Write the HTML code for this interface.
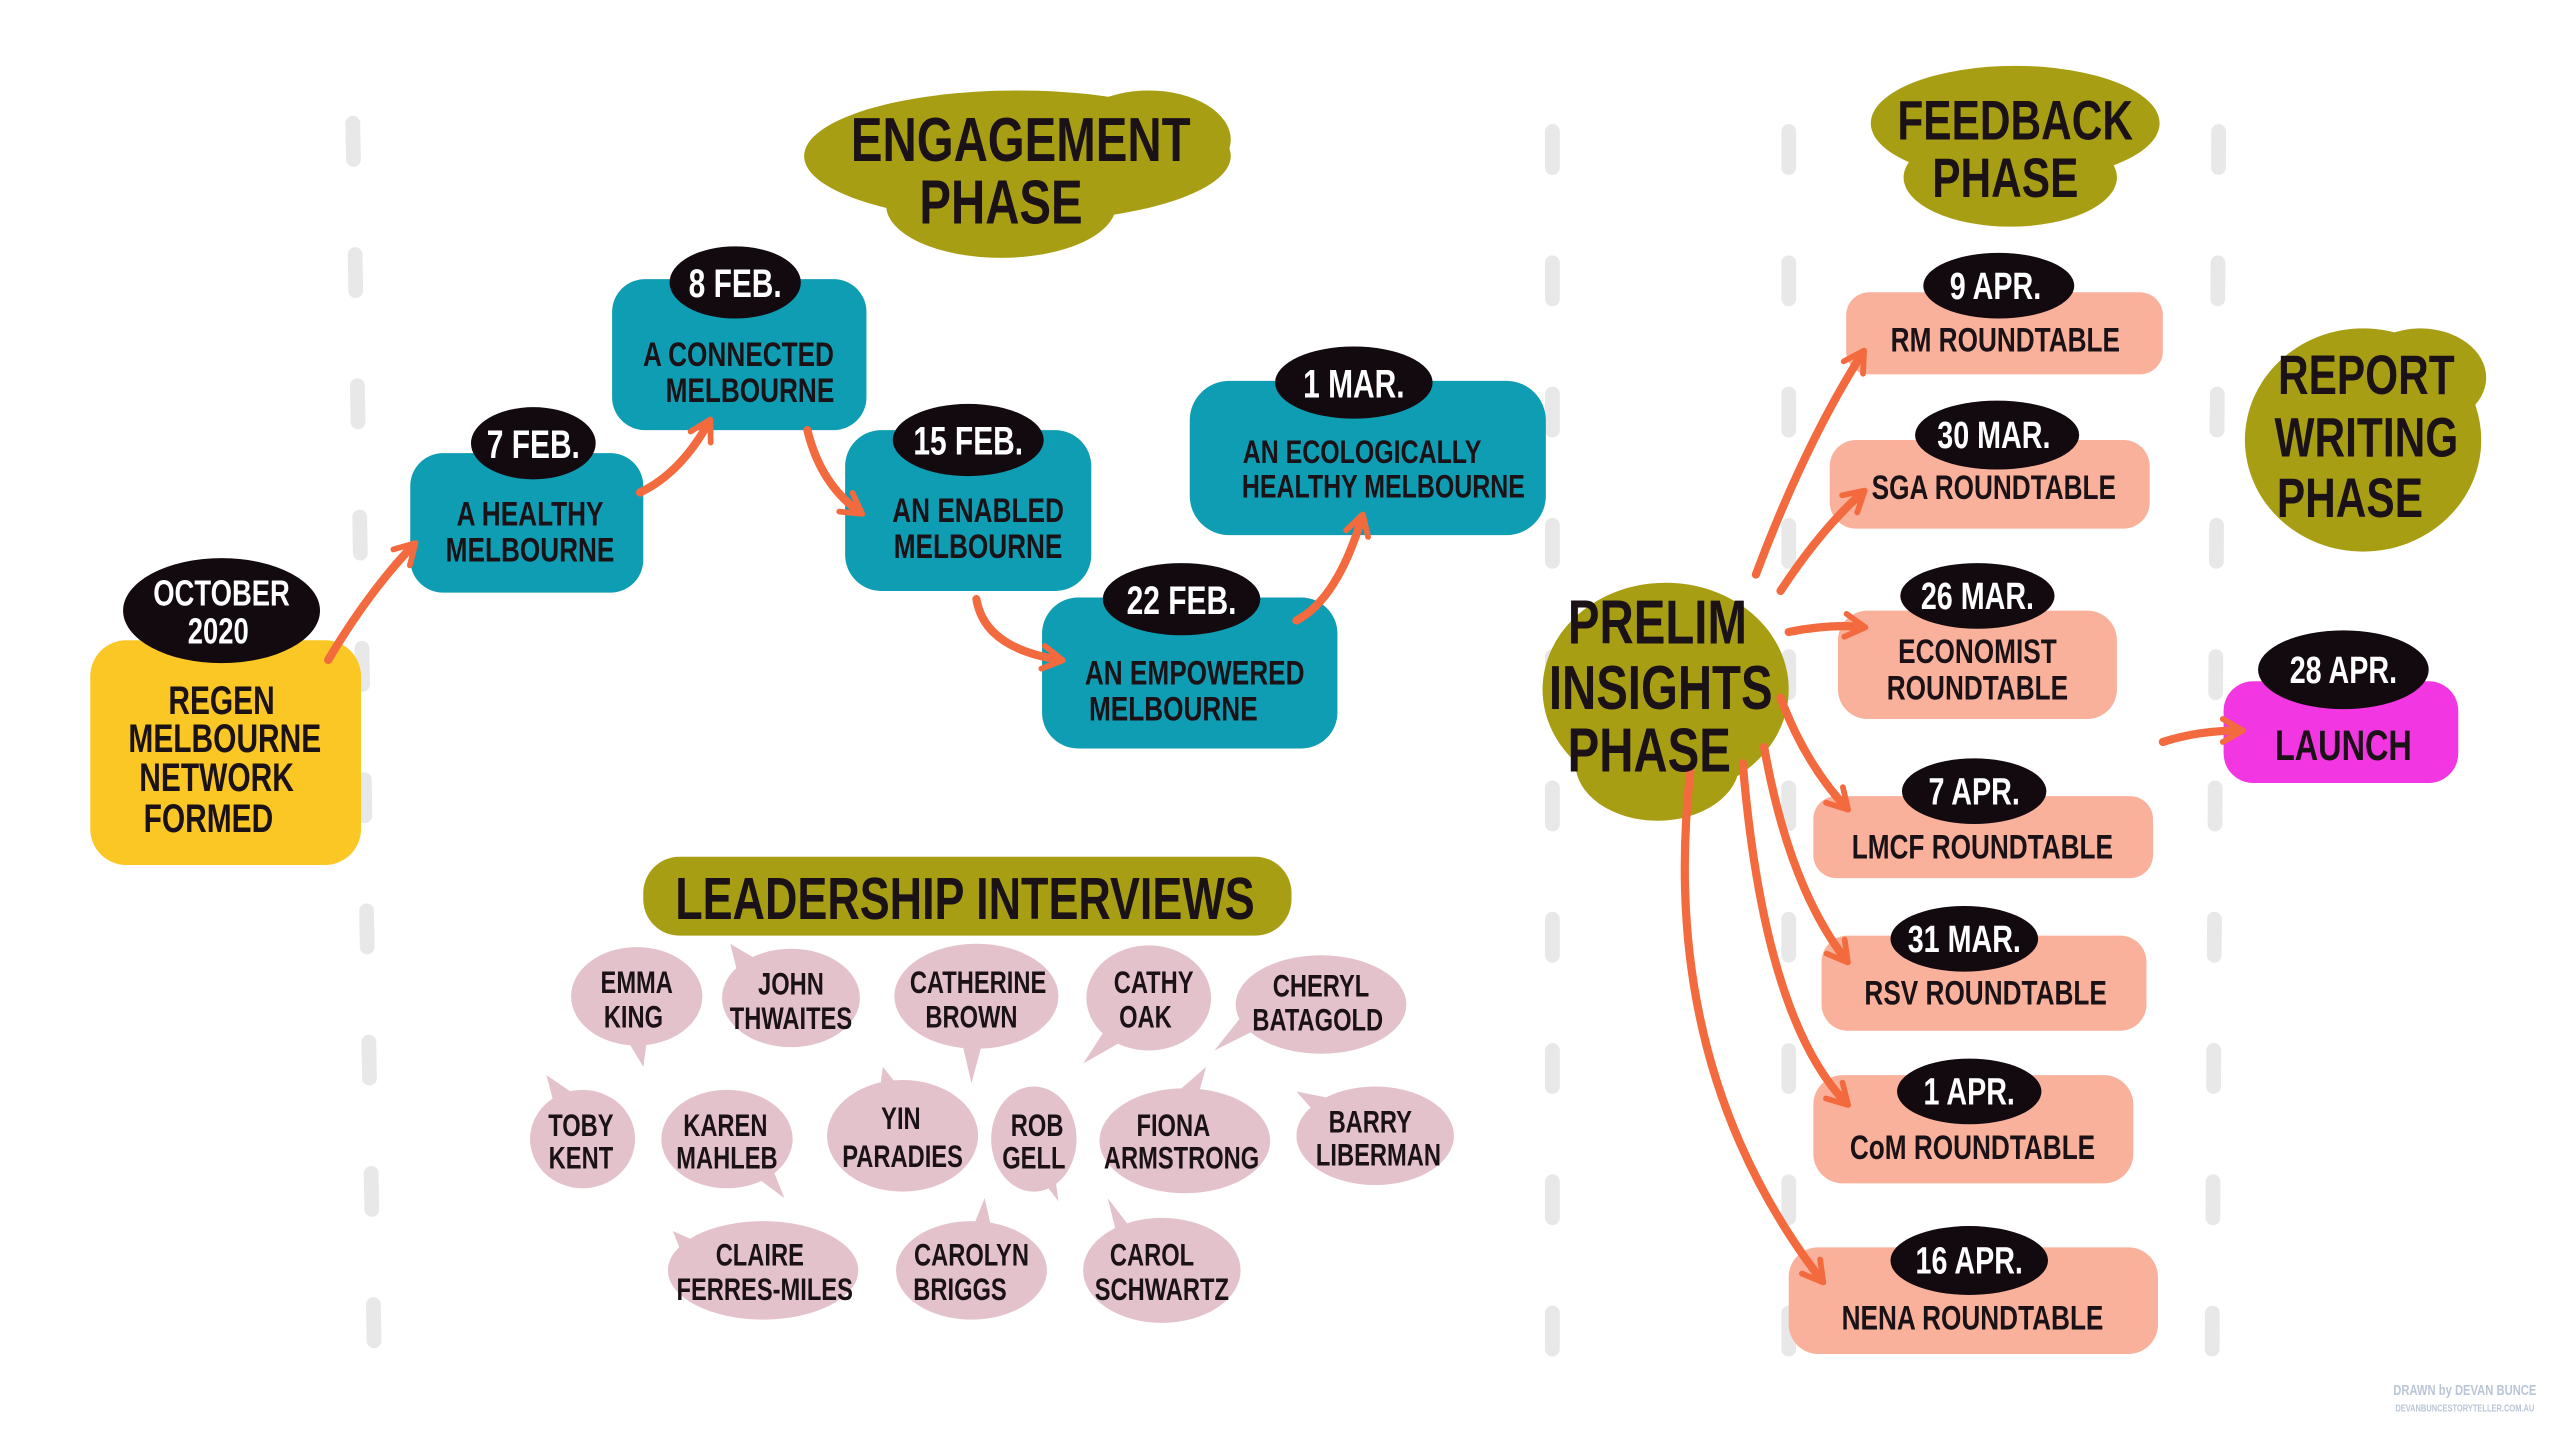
<!DOCTYPE html>
<html><head><meta charset="utf-8"><style>
html,body{margin:0;padding:0;background:#fff;}
svg{display:block;}
text{font-family:"Liberation Sans",sans-serif;font-weight:bold;text-anchor:middle;}
.d{fill:#1a1216;}
.w{fill:#fff;}
</style></head><body>
<svg id="s" width="2560" height="1433" viewBox="0 0 1560 873" xmlns="http://www.w3.org/2000/svg">
<defs>
<marker id="ah" viewBox="0 0 10 10" refX="7" refY="5" markerWidth="3.5" markerHeight="3.5" orient="auto">
<path d="M1,1 L8,5 L1,9" fill="none" stroke="#f26a3d" stroke-width="2" stroke-linecap="round" stroke-linejoin="round"/>
</marker>
</defs>
<g stroke="#e8e8e8" stroke-width="9" stroke-linecap="round" stroke-dasharray="22 58">
<line x1="215" y1="75" x2="228" y2="820"/>
<line x1="946" y1="80" x2="946" y2="830"/>
<line x1="1090" y1="80" x2="1090" y2="830"/>
<line x1="1352" y1="80" x2="1348" y2="830"/>
</g>

<g fill="#a89e14">
<ellipse cx="620" cy="95" rx="130" ry="40"/><ellipse cx="610" cy="125" rx="70" ry="32"/><ellipse cx="700" cy="85" rx="50" ry="30"/>
<ellipse cx="1228" cy="75" rx="88" ry="35"/><ellipse cx="1225" cy="108" rx="65" ry="30"/>
<ellipse cx="1440" cy="268" rx="72" ry="68"/><ellipse cx="1475" cy="230" rx="40" ry="30"/>
<ellipse cx="1015" cy="420" rx="75" ry="65"/><ellipse cx="1010" cy="465" rx="50" ry="35"/>
<rect x="392" y="522" width="395" height="48" rx="22"/>
</g>

<rect x="55" y="390" width="165" height="137" rx="22" fill="#fbc724"/>
<g fill="#0e9db3">
<rect x="250" y="276" width="142" height="85" rx="20"/>
<rect x="373" y="170" width="155" height="92" rx="20"/>
<rect x="515" y="262" width="150" height="98" rx="22"/>
<rect x="635" y="364" width="180" height="92" rx="22"/>
<rect x="725" y="232" width="217" height="94" rx="24"/>
</g>
<g fill="#f9b19b">
<rect x="1125" y="178" width="193" height="50" rx="14"/>
<rect x="1115" y="268" width="195" height="54" rx="16"/>
<rect x="1120" y="372" width="170" height="66" rx="18"/>
<rect x="1105" y="485" width="207" height="50" rx="14"/>
<rect x="1110" y="570" width="198" height="58" rx="16"/>
<rect x="1105" y="655" width="195" height="66" rx="18"/>
<rect x="1090" y="760" width="225" height="65" rx="18"/>
</g>
<rect x="1355" y="415" width="143" height="62" rx="18" fill="#f236e2"/>

<g fill="none" stroke="#f26a3d" stroke-width="5" stroke-linecap="round" marker-end="url(#ah)">
<path d="M200,402 Q225,360 252,332"/>
<path d="M390,300 Q415,288 432,257"/>
<path d="M492,262 Q500,295 524,312"/>
<path d="M595,365 Q600,395 646,402"/>
<path d="M790,378 Q815,365 830,315"/>
<path d="M1070,350 Q1100,270 1135,215"/>
<path d="M1085,360 Q1110,322 1135,300"/>
<path d="M1090,385 Q1115,380 1135,382"/>
<path d="M1085,425 Q1100,465 1125,492"/>
<path d="M1075,455 Q1090,540 1125,585"/>
<path d="M1062,465 Q1075,620 1125,672"/>
<path d="M1030,470 Q1010,650 1110,780"/>
<path d="M1318,452 Q1340,445 1365,445"/>
</g>

<text class="d" x="622" y="98" font-size="38">ENGAGEMENT</text>
<text class="d" x="610" y="136" font-size="38">PHASE</text>
<text class="d" x="1228" y="85" font-size="34">FEEDBACK</text>
<text class="d" x="1222" y="120" font-size="34">PHASE</text>
<text class="d" x="1442" y="240" font-size="34">REPORT</text>
<text class="d" x="1442" y="278" font-size="34">WRITING</text>
<text class="d" x="1432" y="315" font-size="34">PHASE</text>
<text class="d" x="1010" y="392" font-size="38">PRELIM</text>
<text class="d" x="1012" y="432" font-size="38">INSIGHTS</text>
<text class="d" x="1005" y="470" font-size="38">PHASE</text>
<text class="d" x="588" y="560" font-size="36">LEADERSHIP INTERVIEWS</text>

<g fill="#130a10">
<ellipse cx="135" cy="372" rx="60" ry="32"/>
<ellipse cx="325" cy="270" rx="38" ry="22"/>
<ellipse cx="448" cy="172" rx="40" ry="22"/>
<ellipse cx="590" cy="268" rx="46" ry="22"/>
<ellipse cx="720" cy="365" rx="48" ry="22"/>
<ellipse cx="825" cy="233" rx="48" ry="22"/>
</g>
<g class="w" font-size="24">
<text x="135" y="369" font-size="22">OCTOBER</text><text x="133" y="392" font-size="22">2020</text>
<text x="325" y="279">7 FEB.</text>
<text x="448" y="181">8 FEB.</text>
<text x="590" y="277">15 FEB.</text>
<text x="720" y="374">22 FEB.</text>
<text x="825" y="242">1 MAR.</text>
</g>
<g class="d" font-size="24">
<text x="135" y="435">REGEN</text><text x="137" y="458">MELBOURNE</text><text x="132" y="482">NETWORK</text><text x="127" y="507">FORMED</text>
<text x="323" y="320" font-size="21">A HEALTHY</text><text x="323" y="342" font-size="21">MELBOURNE</text>
<text x="450" y="223" font-size="21">A CONNECTED</text><text x="457" y="245" font-size="21">MELBOURNE</text>
<text x="596" y="318" font-size="21">AN ENABLED</text><text x="596" y="340" font-size="21">MELBOURNE</text>
<text x="728" y="417" font-size="21">AN EMPOWERED</text><text x="715" y="439" font-size="21">MELBOURNE</text>
<text x="830" y="282" font-size="20">AN ECOLOGICALLY</text><text x="843" y="303" font-size="20">HEALTHY MELBOURNE</text>
</g>

<g fill="#e3c2cc">
<ellipse cx="388" cy="607" rx="40" ry="30"/><path d="M380,630 L392,650 L395,628Z"/>
<ellipse cx="482" cy="608" rx="42" ry="30"/><path d="M445,575 L450,595 L462,585Z"/>
<ellipse cx="595" cy="607" rx="50" ry="32"/><path d="M585,630 L592,660 L600,630Z"/>
<ellipse cx="700" cy="608" rx="38" ry="32"/><path d="M660,648 L675,625 L688,632Z"/>
<ellipse cx="805" cy="612" rx="52" ry="30"/><path d="M740,640 L760,615 L770,625Z"/>
<ellipse cx="355" cy="694" rx="32" ry="30"/><path d="M333,655 L340,682 L352,668Z"/>
<ellipse cx="443" cy="694" rx="40" ry="30"/><path d="M470,710 L478,730 L462,718Z"/>
<ellipse cx="550" cy="692" rx="46" ry="34"/><path d="M538,650 L535,672 L550,665Z"/>
<ellipse cx="630" cy="694" rx="26" ry="32"/><path d="M632,715 L645,732 L642,710Z"/>
<ellipse cx="722" cy="695" rx="52" ry="32"/><path d="M735,650 L728,675 L712,670Z"/>
<ellipse cx="838" cy="692" rx="48" ry="30"/><path d="M790,665 L805,682 L815,670Z"/>
<ellipse cx="465" cy="774" rx="58" ry="30"/><path d="M410,750 L418,770 L428,758Z"/>
<ellipse cx="592" cy="774" rx="46" ry="30"/><path d="M600,730 L590,755 L605,752Z"/>
<ellipse cx="708" cy="774" rx="48" ry="32"/><path d="M675,730 L682,758 L692,752Z"/>
</g>
<g class="d" font-size="19" font-weight="normal">
<text x="388" y="605">EMMA</text><text x="386" y="626">KING</text>
<text x="482" y="606">JOHN</text><text x="482" y="627">THWAITES</text>
<text x="596" y="605">CATHERINE</text><text x="592" y="626">BROWN</text>
<text x="703" y="605">CATHY</text><text x="698" y="626">OAK</text>
<text x="805" y="607">CHERYL</text><text x="803" y="628">BATAGOLD</text>
<text x="354" y="692">TOBY</text><text x="354" y="712">KENT</text>
<text x="442" y="692">KAREN</text><text x="443" y="712">MAHLEB</text>
<text x="549" y="688">YIN</text><text x="550" y="711">PARADIES</text>
<text x="632" y="692">ROB</text><text x="630" y="712">GELL</text>
<text x="715" y="692">FIONA</text><text x="720" y="712">ARMSTRONG</text>
<text x="835" y="690">BARRY</text><text x="840" y="710">LIBERMAN</text>
<text x="463" y="771">CLAIRE</text><text x="466" y="792">FERRES-MILES</text>
<text x="592" y="771">CAROLYN</text><text x="585" y="792">BRIGGS</text>
<text x="702" y="771">CAROL</text><text x="708" y="792">SCHWARTZ</text>
</g>

<g fill="#130a10">
<ellipse cx="1218" cy="174" rx="46" ry="20"/>
<ellipse cx="1217" cy="265" rx="50" ry="21"/>
<ellipse cx="1205" cy="363" rx="47" ry="20"/>
<ellipse cx="1203" cy="482" rx="44" ry="20"/>
<ellipse cx="1197" cy="572" rx="45" ry="20"/>
<ellipse cx="1200" cy="665" rx="44" ry="20"/>
<ellipse cx="1200" cy="768" rx="48" ry="21"/>
<ellipse cx="1428" cy="408" rx="52" ry="24"/>
</g>
<g class="w" font-size="23">
<text x="1216" y="182">9 APR.</text>
<text x="1215" y="273">30 MAR.</text>
<text x="1205" y="371">26 MAR.</text>
<text x="1203" y="490">7 APR.</text>
<text x="1197" y="580">31 MAR.</text>
<text x="1200" y="673">1 APR.</text>
<text x="1200" y="776">16 APR.</text>
<text x="1428" y="416">28 APR.</text>
</g>
<g class="d" font-size="21">
<text x="1222" y="214">RM ROUNDTABLE</text>
<text x="1215" y="304">SGA ROUNDTABLE</text>
<text x="1205" y="404">ECONOMIST</text><text x="1205" y="426">ROUNDTABLE</text>
<text x="1208" y="523">LMCF ROUNDTABLE</text>
<text x="1210" y="612">RSV ROUNDTABLE</text>
<text x="1202" y="706">CoM ROUNDTABLE</text>
<text x="1202" y="810">NENA ROUNDTABLE</text>
<text x="1428" y="463" font-size="26">LAUNCH</text>
</g>
<text x="1502" y="850" font-size="9" fill="#b9c6d6" font-weight="normal">DRAWN by DEVAN BUNCE</text>
<text x="1502" y="860" font-size="6" fill="#b9c6d6" font-weight="normal">DEVANBUNCESTORYTELLER.COM.AU</text>
</svg>
<script>
document.querySelectorAll('#s text').forEach(function(t){
  var x=parseFloat(t.getAttribute('x'));
  t.setAttribute('transform','translate('+x+',0) scale(0.76,1) translate('+(-x)+',0)');
});
</script>
</body></html>
